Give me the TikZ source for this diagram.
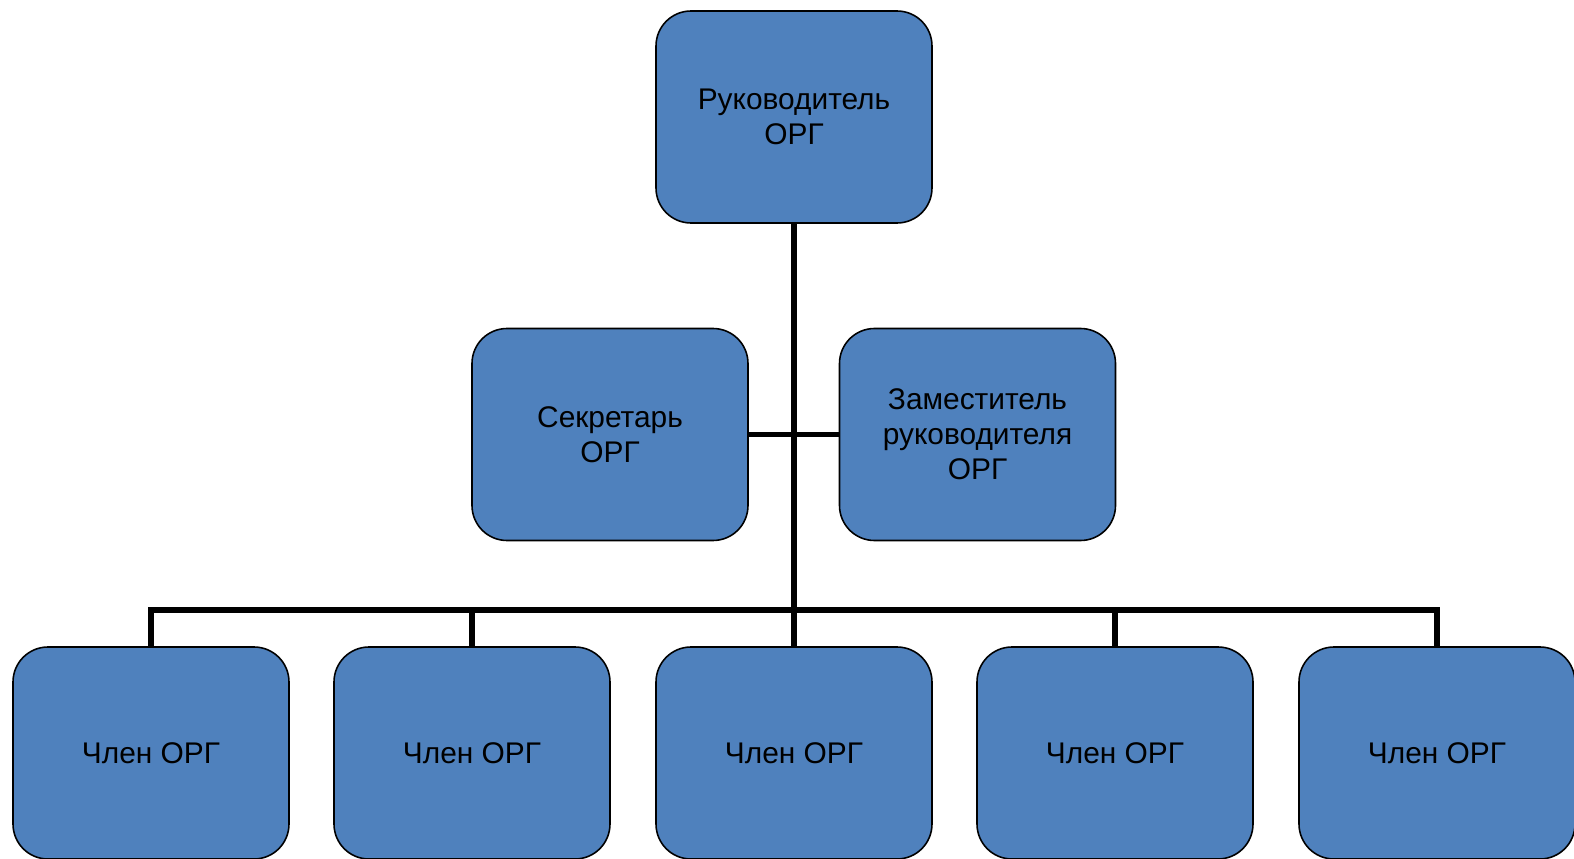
\documentclass[tikz,border=0pt]{standalone}
\usepackage{fontspec}
\setmainfont{Liberation Sans}
\usetikzlibrary{positioning}

\definecolor{orgblue}{RGB}{79,129,189}

\tikzset{
	orgbox/.style = {draw, line width = 0.9pt, fill = orgblue, rounded corners = 0.7cm,
		minimum width = 5.52cm, minimum height = 4.24cm, align = center,
		font = \fontsize{17}{20}\selectfont},
	conn/.style = {line width = 3.4pt}
}

\begin{document}
\begin{tikzpicture}
	
	\useasboundingbox (0,0) rectangle (31.48,17.16);
	
	% top box
	\node[orgbox] (head) at (15.88,14.82) {Руководитель\\ОРГ};
	
	% middle row
	\node[orgbox] (sec) at (12.2,8.47) {Секретарь\\ОРГ};
	\node[orgbox] (dep) at (19.55,8.47) {Заместитель\\руководителя\\ОРГ};
	
	% bottom row
	\node[orgbox] (m1) at (3.02,2.1) {Член ОРГ};
	\node[orgbox] (m2) at (9.44,2.1) {Член ОРГ};
	\node[orgbox] (m3) at (15.88,2.1) {Член ОРГ};
	\node[orgbox] (m4) at (22.3,2.1) {Член ОРГ};
	\node[orgbox] (m5) at (28.74,2.1) {Член ОРГ};
	
	\coordinate (bus) at (15.88,4.96);
	
	% lines
	\draw[conn] (head.south) -- (m3.north);
	\draw[conn] (sec.east) -- (dep.west);
	\draw[conn] (m1.north) |- (bus) -| (m5.north);
	\draw[conn] (m2.north) -- (m2.north |- bus);
	\draw[conn] (m4.north) -- (m4.north |- bus);
	
\end{tikzpicture}
\end{document}
